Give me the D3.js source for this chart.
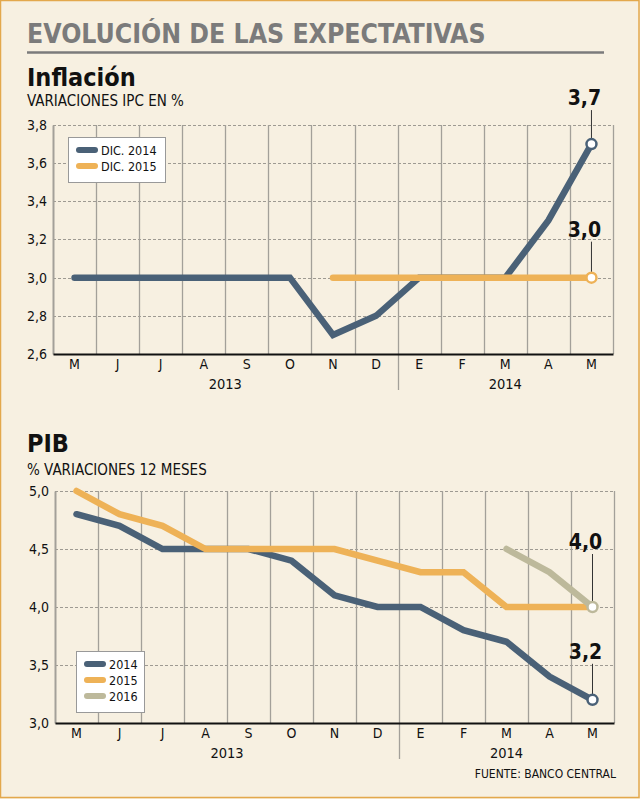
<!DOCTYPE html>
<html>
<head>
<meta charset="utf-8">
<script src="https://cdn.jsdelivr.net/npm/d3@7"></script>
<style>
  body { margin: 0; background: #f7f0e1; }
  svg text { font-family: "DejaVu Sans Condensed", "DejaVu Sans", sans-serif; font-stretch: condensed; }
</style>
</head>
<body>
<script>
// meses y datos
var months = ['M', 'J', 'J', 'A', 'S', 'O', 'N', 'D', 'E', 'F', 'M', 'A', 'M'];
var years = ['2013', '2014'];

var ipcTicks = [2.6, 2.8, 3.0, 3.2, 3.4, 3.6, 3.8];
var ipc2014 = [3.0, 3.0, 3.0, 3.0, 3.0, 3.0, 2.7, 2.8, 3.0, 3.0, 3.0, 3.3, 3.7];
var ipc2015 = [null, null, null, null, null, null, 3.0, 3.0, 3.0, 3.0, 3.0, 3.0, 3.0];

var pibTicks = [3.0, 3.5, 4.0, 4.5, 5.0];
var pib2014 = [4.8, 4.7, 4.5, 4.5, 4.5, 4.4, 4.1, 4.0, 4.0, 3.8, 3.7, 3.4, 3.2];
var pib2015 = [5.0, 4.8, 4.7, 4.5, 4.5, 4.5, 4.5, 4.4, 4.3, 4.3, 4.0, 4.0, 4.0];
var pib2016 = [null, null, null, null, null, null, null, null, null, null, 4.5, 4.3, 4.0];

var cBlue = '#4a6177', cOrange = '#eeb257', cKhaki = '#bdb99b';
var comma = d3.formatLocale({decimal: ',', thousands: '.', grouping: [3], currency: ['', '']}).format('.1f');

var W = 640, H = 799;
var svg = d3.select('body').append('svg').attr('width', W).attr('height', H);

svg.append('rect').attr('x', 0.5).attr('y', 0.5).attr('width', W - 1.5).attr('height', H - 2)
  .attr('fill', '#f7f0e1').attr('stroke', '#e3a84c').attr('stroke-width', 1.5);

svg.append('text').attr('x', 27).attr('y', 43).text('EVOLUCIÓN DE LAS EXPECTATIVAS')
  .attr('font-size', 26.4).attr('font-weight', 'bold').attr('fill', '#7b7b7b');
svg.append('line').attr('x1', 27).attr('x2', 604).attr('y1', 52.5).attr('y2', 52.5)
  .attr('stroke', '#7b7b7b').attr('stroke-width', 2.5);

function drawChart(o) {
  var g = svg.append('g');
  g.append('text').attr('x', 27).attr('y', o.titleY).text(o.title)
    .attr('font-size', 25).attr('font-weight', 'bold').attr('fill', '#111');
  g.append('text').attr('x', 27).attr('y', o.subY).text(o.sub)
    .attr('font-size', 15).attr('fill', '#111');

  var x = d3.scaleBand().domain(d3.range(months.length)).range([o.left, o.right]).padding(0);
  var y = d3.scaleLinear().domain(o.domain).range([o.bottom, o.top]);

  // horizontal dashed grid
  g.selectAll('.hg').data(o.ticks.slice(1)).enter().append('line')
    .attr('x1', o.left).attr('x2', o.right)
    .attr('y1', function (d) { return Math.round(y(d)) + 0.5; })
    .attr('y2', function (d) { return Math.round(y(d)) + 0.5; })
    .attr('stroke', '#9e9a92').attr('stroke-dasharray', '3,2').attr('stroke-width', 1);

  // vertical grid
  var vx = d3.range(1, months.length).map(function (i) { return x(i); }).concat([o.right]);
  g.selectAll('.vg').data(vx).enter().append('line')
    .attr('x1', function (d) { return Math.round(d) + 0.5; })
    .attr('x2', function (d) { return Math.round(d) + 0.5; })
    .attr('y1', o.top).attr('y2', o.bottom)
    .attr('stroke', '#a3a099').attr('stroke-width', 1.3);

  // year divider
  g.append('line').attr('x1', Math.round(x(8)) + 0.5).attr('x2', Math.round(x(8)) + 0.5)
    .attr('y1', o.bottom).attr('y2', o.bottom + 36).attr('stroke', '#a3a099').attr('stroke-width', 1.3);

  // y axis
  var ya = g.append('g').attr('transform', 'translate(' + o.left + ',0)')
    .call(d3.axisLeft(y).tickValues(o.ticks).tickFormat(comma).tickSize(0).tickPadding(6));
  ya.select('.domain').attr('stroke', '#a3a099').attr('stroke-width', 2);
  ya.selectAll('text').attr('font-size', 14).attr('fill', '#111')
    .style('font-family', '"DejaVu Sans Condensed", "DejaVu Sans", sans-serif');

  // x axis
  var xa = g.append('g').attr('transform', 'translate(0,' + o.bottom + ')')
    .call(d3.axisBottom(x).tickFormat(function (i) { return months[i]; }).tickSize(0).tickPadding(5));
  xa.select('.domain').attr('stroke', '#111').attr('stroke-width', 2);
  xa.selectAll('text').attr('font-size', 14).attr('fill', '#111')
    .style('font-family', '"DejaVu Sans Condensed", "DejaVu Sans", sans-serif');

  g.append('text').attr('x', (x(0) + x(8)) / 2).attr('y', o.bottom + 35).attr('text-anchor', 'middle')
    .text(years[0]).attr('font-size', 14.5).attr('fill', '#111');
  g.append('text').attr('x', (x(8) + o.right) / 2).attr('y', o.bottom + 35).attr('text-anchor', 'middle')
    .text(years[1]).attr('font-size', 14.5).attr('fill', '#111');

  var line = d3.line()
    .defined(function (d) { return d != null; })
    .x(function (d, i) { return x(i) + x.bandwidth() / 2; })
    .y(function (d) { return y(d); });

  o.series.forEach(function (s) {
    g.append('path').datum(s.values).attr('d', line)
      .attr('fill', 'none').attr('stroke', s.color).attr('stroke-width', 6.5)
      .attr('stroke-linecap', 'round').attr('stroke-linejoin', 'miter');
  });

  // end labels
  o.series.forEach(function (s) {
    if (!s.label) return;
    var last = s.values.length - 1;
    var cx = x(last) + x.bandwidth() / 2, cy = y(s.values[last]);
    g.append('line').attr('x1', cx).attr('x2', cx).attr('y1', cy - s.lead).attr('y2', cy)
      .attr('stroke', '#333').attr('stroke-width', 1);
    g.append('circle').attr('cx', cx).attr('cy', cy).attr('r', 5)
      .attr('fill', '#fff').attr('stroke', s.color).attr('stroke-width', 2.5);
    g.append('text').attr('x', cx - 7).attr('y', cy - s.lead - 5).attr('text-anchor', 'middle')
      .text(comma(s.values[last])).attr('font-size', 21).attr('font-weight', 'bold').attr('fill', '#111');
  });

  // legend
  var lg = g.append('g').attr('transform', 'translate(' + o.legend[0] + ',' + o.legend[1] + ')');
  lg.append('rect').attr('x', 0.5).attr('y', 0.5).attr('width', o.legend[2]).attr('height', 13 + o.series.length * 16)
    .attr('fill', '#fff').attr('stroke', '#999');
  var items = lg.selectAll('.li').data(o.series).enter().append('g')
    .attr('transform', function (d, i) { return 'translate(0,' + (13 + i * 16) + ')'; });
  items.append('line').attr('x1', 11).attr('x2', 27).attr('stroke', function (d) { return d.color; })
    .attr('stroke-width', 6).attr('stroke-linecap', 'round');
  items.append('text').attr('x', 33).attr('y', 4.5).text(function (d) { return d.name; })
    .attr('font-size', 12.5).attr('fill', '#111');
}

drawChart({
  title: 'Inflación', titleY: 86, sub: 'VARIACIONES IPC EN %', subY: 106,
  left: 53, right: 613, top: 125, bottom: 354, domain: [2.6, 3.8], ticks: ipcTicks,
  legend: [68, 137, 97],
  series: [
    {name: 'DIC. 2014', values: ipc2014, color: cBlue, label: true, lead: 34},
    {name: 'DIC. 2015', values: ipc2015, color: cOrange, label: true, lead: 36}
  ]
});

drawChart({
  title: 'PIB', titleY: 452, sub: '% VARIACIONES 12 MESES', subY: 475,
  left: 55, right: 614, top: 491, bottom: 723, domain: [3.0, 5.0], ticks: pibTicks,
  legend: [76, 651, 68],
  series: [
    {name: '2014', values: pib2014, color: cBlue, label: true, lead: 36},
    {name: '2015', values: pib2015, color: cOrange, label: false},
    {name: '2016', values: pib2016, color: cKhaki, label: true, lead: 53}
  ]
});

svg.append('text').attr('x', 616).attr('y', 778).attr('text-anchor', 'end')
  .text('FUENTE: BANCO CENTRAL').attr('font-size', 12).attr('fill', '#111');
</script>
</body>
</html>
